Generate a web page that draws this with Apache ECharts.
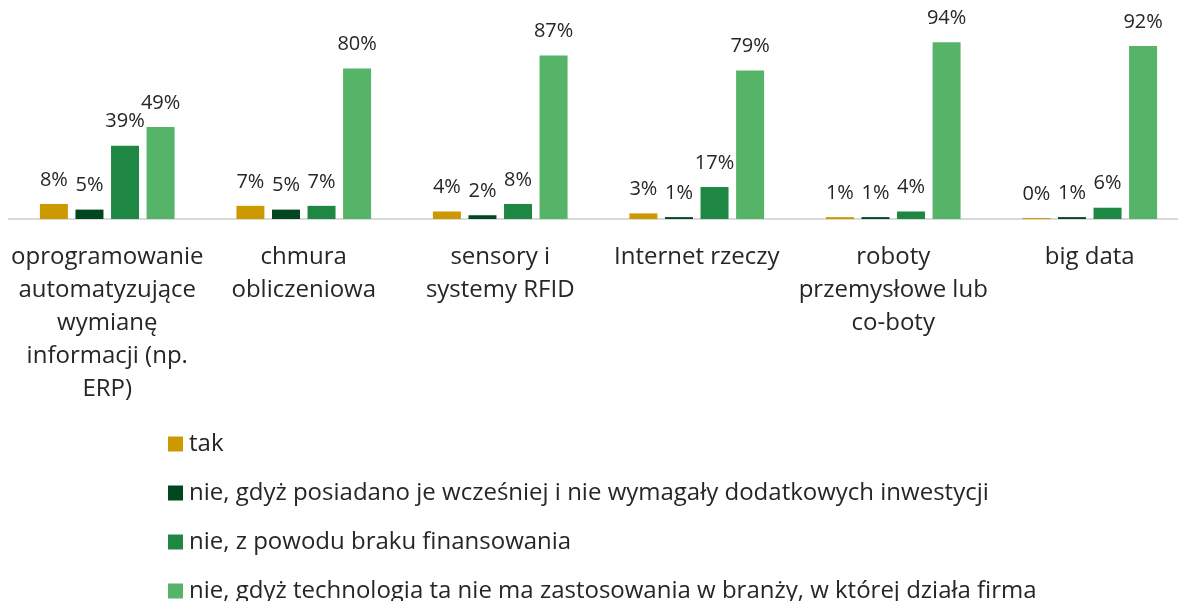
<!DOCTYPE html>
<html>
<head>
<meta charset="utf-8">
<script src="https://cdn.jsdelivr.net/npm/echarts@6/dist/echarts.min.js"></script>
<style>
  html, body { margin: 0; padding: 0; background: #fff; overflow: hidden; }
  #chart { width: 1200px; height: 601px; }
</style>
</head>
<body>
<div id="chart"></div>
<script>
// Technology categories (x axis)
const categories = [
  'oprogramowanie\nautomatyzujące\nwymianę\ninformacji (np.\nERP)',
  'chmura\nobliczeniowa',
  'sensory i\nsystemy RFID',
  'Internet rzeczy',
  'roboty\nprzemysłowe lub\nco-boty',
  'big data'
];

// Series names
const seriesNames = [
  'tak',
  'nie, gdyż posiadano je wcześniej i nie wymagały dodatkowych inwestycji',
  'nie, z powodu braku finansowania',
  'nie, gdyż technologia ta nie ma zastosowania w branży, w której działa firma'
];

// Shares in percent
const tak = [8, 7, 4, 3, 1, 0];
const posiadano = [5, 5, 2, 1, 1, 1];
const brakFinansowania = [39, 7, 8, 17, 4, 6];
const brakZastosowania = [49, 80, 87, 79, 94, 92];

const colors = ['#CC9A00', '#00461F', '#1E8744', '#55B468'];
const values = [tak, posiadano, brakFinansowania, brakZastosowania];

const font = '"Open Sans", "Noto Sans", sans-serif';

const chart = echarts.init(document.getElementById('chart'));
chart.setOption({
  animation: false,
  textStyle: { fontFamily: font },
  grid: { left: 9, width: 1179, top: 31, height: 188, containLabel: false },
  legend: {
    orient: 'vertical',
    left: 163,
    top: 427,
    height: 200,
    itemWidth: 15,
    itemHeight: 15,
    itemGap: 25,
    icon: 'rect',
    selectedMode: false,
    textStyle: { fontSize: 24, lineHeight: 24, color: '#262626', fontFamily: font, padding: [0, 0, 0, 1] },
    data: seriesNames
  },
  xAxis: {
    type: 'category',
    data: categories,
    axisLine: { lineStyle: { color: '#D9D9D9', width: 2 } },
    axisTick: { show: false },
    axisLabel: {
      interval: 0,
      margin: 22,
      fontSize: 24,
      lineHeight: 33,
      color: '#262626',
      fontFamily: font
    }
  },
  yAxis: {
    type: 'value',
    min: 0,
    max: 100,
    show: false,
    splitLine: { show: false }
  },
  series: seriesNames.map((name, i) => ({
    name: name,
    type: 'bar',
    data: values[i],
    barWidth: 28,
    barGap: '27%',
    barCategoryGap: '30%',
    barMinHeight: 1,
    itemStyle: { color: colors[i] },
    label: {
      show: true,
      position: 'top',
      distance: 14,
      formatter: '{c}%',
      fontSize: 20,
      color: '#262626',
      fontFamily: font
    }
  }))
});
</script>
</body>
</html>
